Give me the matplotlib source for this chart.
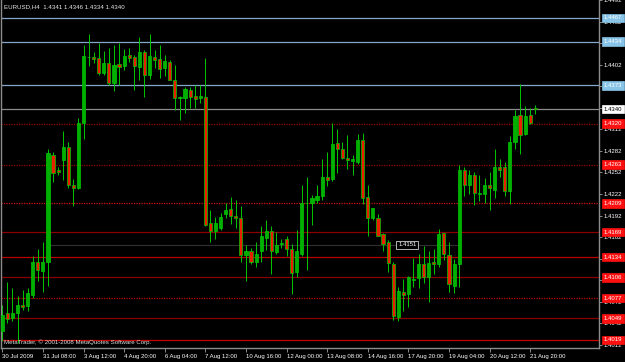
import numpy as np
import matplotlib
matplotlib.use("Agg")
import matplotlib.pyplot as plt

plt.rcParams['font.family'] = ['Liberation Sans', 'DejaVu Sans']

# EURUSD H4 candles (oldest first)
opens = [1.4031, 1.4057, 1.4049, 1.4057, 1.4068, 1.4066, 1.4081, 1.4128, 1.4115, 1.4127,
         1.4276, 1.4255, 1.4269, 1.4287, 1.4234, 1.4230, 1.4321, 1.4412, 1.4413, 1.4411,
         1.4391, 1.4405, 1.4377, 1.4403, 1.4400, 1.4415, 1.4413, 1.4399, 1.4419, 1.4388,
         1.4413, 1.4410, 1.4397, 1.4406, 1.4380, 1.4356, 1.4356, 1.4367, 1.4359, 1.4355,
         1.4357, 1.4182, 1.4171, 1.4174, 1.4194, 1.4201, 1.4192, 1.4189, 1.4137, 1.4143,
         1.4127, 1.4142, 1.4161, 1.4171, 1.4141, 1.4152, 1.4159, 1.4145, 1.4114, 1.4139,
         1.4209, 1.4210, 1.4214, 1.4219, 1.4245, 1.4243, 1.4293, 1.4285, 1.4272, 1.4268,
         1.4267, 1.4297, 1.4218, 1.4188, 1.4189, 1.4166, 1.4155, 1.4125, 1.4051, 1.4086,
         1.4083, 1.4102, 1.4105, 1.4124, 1.4107, 1.4127, 1.4124, 1.4167, 1.4137, 1.4094,
         1.4124, 1.4255, 1.4234, 1.4249, 1.4222, 1.4222, 1.4234, 1.4228, 1.4260, 1.4260,
         1.4226, 1.4294, 1.4332, 1.4306, 1.4332, 1.4341]
highs = [1.4068, 1.4099, 1.4091, 1.4080, 1.4089, 1.4091, 1.4136, 1.4146, 1.4155, 1.4284,
         1.4281, 1.4260, 1.4309, 1.4295, 1.4243, 1.4328, 1.4430, 1.4445, 1.4420, 1.4432,
         1.4421, 1.4425, 1.4430, 1.4432, 1.4424, 1.4425, 1.4416, 1.4440, 1.4422, 1.4445,
         1.4422, 1.4430, 1.4415, 1.4408, 1.4402, 1.4359, 1.4371, 1.4371, 1.4373, 1.4374,
         1.4411, 1.4199, 1.4190, 1.4196, 1.4209, 1.4218, 1.4213, 1.4205, 1.4151, 1.4147,
         1.4155, 1.4178, 1.4186, 1.4178, 1.4169, 1.4160, 1.4164, 1.4153, 1.4172, 1.4234,
         1.4245, 1.4221, 1.4234, 1.4271, 1.4281, 1.4321, 1.4312, 1.4295, 1.4304, 1.4276,
         1.4306, 1.4307, 1.4234, 1.4203, 1.4194, 1.4168, 1.4158, 1.4127, 1.4092, 1.4104,
         1.4108, 1.4133, 1.4138, 1.4150, 1.4142, 1.4145, 1.4173, 1.4168, 1.4155, 1.4131,
         1.4262, 1.4260, 1.4255, 1.4253, 1.4249, 1.4244, 1.4253, 1.4284, 1.4270, 1.4267,
         1.4303, 1.4339, 1.4375, 1.4344, 1.4342, 1.4346]
lows = [1.4017, 1.4042, 1.4045, 1.4014, 1.4061, 1.4059, 1.4077, 1.4101, 1.4085, 1.4094,
        1.4238, 1.4249, 1.4241, 1.4231, 1.4205, 1.4229, 1.4298, 1.4400, 1.4404, 1.4387,
        1.4388, 1.4374, 1.4366, 1.4373, 1.4394, 1.4406, 1.4367, 1.4381, 1.4357, 1.4382,
        1.4397, 1.4383, 1.4386, 1.4380, 1.4339, 1.4325, 1.4335, 1.4342, 1.4342, 1.4348,
        1.4178, 1.4155, 1.4160, 1.4172, 1.4189, 1.4180, 1.4175, 1.4128, 1.4101, 1.4125,
        1.4120, 1.4128, 1.4144, 1.4110, 1.4139, 1.4147, 1.4136, 1.4083, 1.4106, 1.4136,
        1.4116, 1.4179, 1.4210, 1.4213, 1.4233, 1.4240, 1.4251, 1.4270, 1.4257, 1.4248,
        1.4264, 1.4208, 1.4163, 1.4186, 1.4163, 1.4142, 1.4114, 1.4046, 1.4045, 1.4059,
        1.4065, 1.4092, 1.4091, 1.4098, 1.4071, 1.4110, 1.4121, 1.4130, 1.4085, 1.4084,
        1.4092, 1.4219, 1.4222, 1.4207, 1.4212, 1.4210, 1.4199, 1.4217, 1.4245, 1.4219,
        1.4208, 1.4284, 1.4278, 1.4304, 1.4320, 1.4334]
closes = [1.4054, 1.4048, 1.4056, 1.4067, 1.4065, 1.4084, 1.4127, 1.4116, 1.4127, 1.4279,
          1.4251, 1.4252, 1.4288, 1.4235, 1.4231, 1.4321, 1.4414, 1.4413, 1.4410, 1.4391,
          1.4405, 1.4376, 1.4402, 1.4399, 1.4414, 1.4411, 1.4400, 1.4419, 1.4388, 1.4414,
          1.4408, 1.4396, 1.4407, 1.4381, 1.4356, 1.4357, 1.4368, 1.4357, 1.4354, 1.4359,
          1.4179, 1.4170, 1.4182, 1.4190, 1.4200, 1.4191, 1.4188, 1.4137, 1.4142, 1.4128,
          1.4139, 1.4163, 1.4171, 1.4143, 1.4151, 1.4154, 1.4145, 1.4112, 1.4142, 1.4210,
          1.4210, 1.4216, 1.4219, 1.4245, 1.4241, 1.4291, 1.4284, 1.4272, 1.4269, 1.4270,
          1.4297, 1.4217, 1.4188, 1.4202, 1.4164, 1.4153, 1.4126, 1.4052, 1.4087, 1.4081,
          1.4106, 1.4103, 1.4124, 1.4107, 1.4126, 1.4124, 1.4166, 1.4138, 1.4096, 1.4125,
          1.4255, 1.4234, 1.4248, 1.4223, 1.4224, 1.4234, 1.4230, 1.4260, 1.4255, 1.4226,
          1.4295, 1.4330, 1.4304, 1.4331, 1.4321, 1.4340]

time_labels = ["30 Jul 2009", "31 Jul 08:00", "3 Aug 12:00", "4 Aug 20:00", "6 Aug 04:00",
               "7 Aug 12:00", "10 Aug 16:00", "12 Aug 00:00", "13 Aug 08:00", "14 Aug 16:00",
               "17 Aug 20:00", "19 Aug 04:00", "20 Aug 12:00", "21 Aug 20:00"]
bars_per_label = 8

price_ticks = [1.4492, 1.4462, 1.4432, 1.4402, 1.4372, 1.4342, 1.4312, 1.4282, 1.4252,
               1.4222, 1.4192, 1.4162, 1.4132, 1.4102, 1.4072, 1.4042, 1.4012]

# resistance lines (blue), bid line, support lines (red)
blue_levels = [1.4467, 1.4434, 1.4373]
bid = 1.4340
red_levels = [1.4320, 1.4263, 1.4209, 1.4169, 1.4134, 1.4106, 1.4077, 1.4049, 1.4019]
red_styles = ['dot', 'dot', 'dot', 'solid', 'solid', 'solid', 'dot', 'solid', 'solid']
red_colors = ['#9a0000', '#9a0000', '#d01010', '#8a0000', '#b80000', '#8a0000',
              '#c00000', '#8a0000', '#c80000']
mark_level = 1.4151

W, H = 625, 362
fig = plt.figure(figsize=(W / 100, H / 100), dpi=100, facecolor='black')
ax = fig.add_axes([1 / W, 14 / H, 598 / W, 348 / H])
ax.set_facecolor('black')

x = np.arange(len(opens))
o = np.array(opens); h = np.array(highs); l = np.array(lows); c = np.array(closes)

# levels
for lv in blue_levels:
    ax.axhline(lv, color='#86a8c8', lw=0.9, zorder=1)
ax.axhline(bid, color='#8c8c8c', lw=0.9, zorder=1)
for lv, st, col in zip(red_levels, red_styles, red_colors):
    ls = (0, (1, 1)) if st == 'dot' else '-'
    ax.axhline(lv, color=col, lw=0.9, ls=ls, zorder=1)
ax.hlines(mark_level, 9, 90, color='#303030', lw=0.8, zorder=1)

# candles
green = '#00c800'
ax.vlines(x, l, h, color=green, lw=0.7, zorder=2)
up = c >= o
body_h = np.maximum(np.abs(c - o), 0.00004)
ax.bar(x, body_h, bottom=np.minimum(o, c), width=0.62,
       color=np.where(up, '#00b000', '#e82000'), edgecolor=green, linewidth=0.5, zorder=3)

ax.set_xlim(-0.256, 117.55)
ax.set_ylim(1.40076, 1.44505)

for s in ['left', 'right', 'bottom']:
    ax.spines[s].set_color('#8c8c8c')
    ax.spines[s].set_linewidth(1)
ax.spines['top'].set_visible(False)

ax.yaxis.tick_right()
ax.set_yticks(price_ticks)
ax.set_yticklabels([f"{p:.4f}" for p in price_ticks])
ax.tick_params(axis='y', colors='#a0a0a0', labelcolor='white', length=2.5, width=0.6,
               pad=1, labelsize=4.3)

xt = np.arange(len(time_labels)) * bars_per_label
ax.set_xticks(xt)
ax.set_xticklabels(time_labels)
ax.tick_params(axis='x', colors='#a0a0a0', labelcolor='white', length=3, width=0.6,
               pad=1.2, labelsize=4.3)
for t in ax.get_xticklabels():
    t.set_ha('left')

# price boxes on the right
def price_box(p, fc, tc):
    ax.annotate(f"{p:.4f}", xy=(1, p), xycoords=ax.get_yaxis_transform(),
                xytext=(3.2, 0), textcoords='offset points', ha='left', va='center',
                fontsize=4.3, color=tc, zorder=6,
                bbox=dict(boxstyle='square,pad=0.3', fc=fc, ec=fc, lw=0.5))

for lv in blue_levels:
    price_box(lv, '#87c4e8', 'white')
price_box(bid, 'white', 'black')
for lv in red_levels:
    price_box(lv, '#ff1010', 'white')

ax.text(79.8, mark_level, f"{mark_level:.4f}", ha='center', va='center', fontsize=4.3,
        color='white', zorder=6,
        bbox=dict(boxstyle='square,pad=0.3', fc='black', ec='#d0d0d0', lw=0.6))

fig.text(4 / W, 1 - 6.5 / H, "EURUSD,H4  1.4341 1.4346 1.4334 1.4340", color='#e8e8e8',
         fontsize=4.4, ha='left', va='center')
fig.text(4 / W, 1 - 342 / H, "MetaTrader, \u00a9 2001-2008 MetaQuotes Software Corp.",
         color='#e0e0e0', fontsize=4.4, ha='left', va='center')

fig.savefig('out.png', dpi=100, facecolor='black')
